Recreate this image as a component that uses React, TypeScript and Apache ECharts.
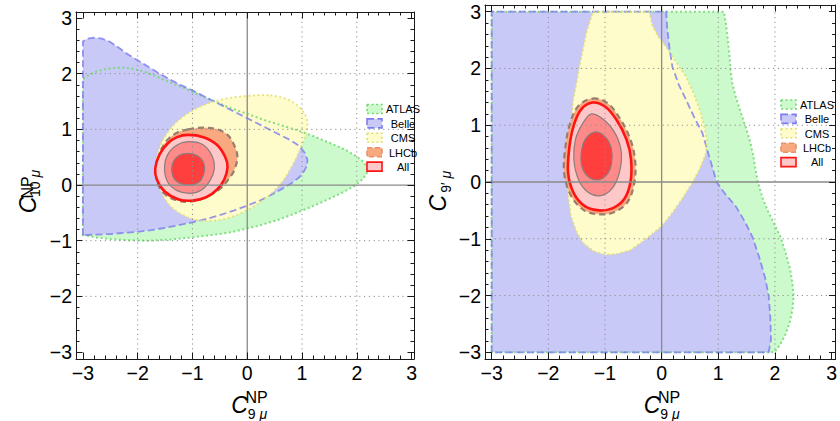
import React, { useEffect, useRef } from "react";
import * as echarts from "echarts";

type Pt = [number, number];

// ---- axis ticks ----
const tickValues = [-3, -2, -1, 0, 1, 2, 3];
const gridValues = [-2, -1, 1, 2];
const minorStep = 0.2;
const legendNames = ["ATLAS", "Belle", "CMS", "LHCb", "All"];

// ---- panel 1: C10 vs C9 ----
const c10Atlas: Pt[] = [
  [-3, -0.9], [-3, 1.9], [-2.9, 1.97], [-2.75, 2.04], [-2.6, 2.08], [-2.45, 2.1], [-2.28, 2.11],
  [-2.1, 2.09], [-1.9, 2.04], [-1.7, 1.97], [-1.5, 1.88], [-1.3, 1.8], [-1.1, 1.72], [-0.9, 1.63],
  [-0.7, 1.55], [-0.5, 1.46], [-0.3, 1.38], [0, 1.28], [0.3, 1.17], [0.6, 1.08], [0.9, 0.99],
  [1.2, 0.88], [1.5, 0.76], [1.8, 0.63], [2.0, 0.51], [2.12, 0.42], [2.19, 0.32], [2.18, 0.2],
  [2.1, 0.1], [1.95, -0.02], [1.75, -0.13], [1.45, -0.27], [1.15, -0.4], [0.85, -0.52],
  [0.55, -0.63], [0.25, -0.72], [0, -0.78], [-0.3, -0.85], [-0.65, -0.9], [-1.0, -0.94],
  [-1.4, -0.98], [-1.8, -1.0], [-2.2, -0.99], [-2.5, -0.97], [-2.77, -0.94], [-2.92, -0.91],
];
const c10Belle: Pt[] = [
  [-3, -0.9], [-3, 2.58], [-2.92, 2.63], [-2.8, 2.645], [-2.65, 2.63], [-2.5, 2.57], [-2.35, 2.47],
  [-2.2, 2.36], [-2.0, 2.24], [-1.8, 2.12], [-1.6, 2.0], [-1.4, 1.89], [-1.2, 1.79], [-1.0, 1.7],
  [-0.8, 1.6], [-0.6, 1.5], [-0.4, 1.4], [-0.2, 1.3], [0, 1.2], [0.2, 1.1], [0.4, 1.0], [0.6, 0.9],
  [0.8, 0.8], [0.95, 0.7], [1.05, 0.58], [1.1, 0.45], [1.09, 0.35], [1.04, 0.25], [0.95, 0.14],
  [0.82, 0.04], [0.65, -0.06], [0.45, -0.17], [0.25, -0.27], [0, -0.37], [-0.25, -0.46],
  [-0.5, -0.54], [-0.75, -0.61], [-1.0, -0.67], [-1.25, -0.72], [-1.5, -0.77], [-1.75, -0.81],
  [-2.0, -0.84], [-2.25, -0.86], [-2.5, -0.88], [-2.75, -0.89],
];
const c10Cms: Pt[] = [
  [0.42, 1.61], [0.75, 1.53], [0.97, 1.38], [1.09, 1.18], [1.08, 0.95], [0.98, 0.68], [0.84, 0.38],
  [0.64, 0.06], [0.36, -0.22], [0.0, -0.45], [-0.3, -0.58], [-0.6, -0.64], [-0.9, -0.63],
  [-1.15, -0.55], [-1.4, -0.38], [-1.58, -0.1], [-1.67, 0.25], [-1.62, 0.62], [-1.45, 0.95],
  [-1.18, 1.22], [-0.85, 1.41], [-0.45, 1.54], [0.0, 1.6],
];
const c10Lhcb: Pt[] = [
  [-1.08, 1.0], [-0.8, 1.03], [-0.55, 1.0], [-0.36, 0.9], [-0.24, 0.72], [-0.18, 0.51],
  [-0.24, 0.26], [-0.36, 0.08], [-0.5, -0.07], [-0.78, -0.23], [-1.05, -0.3], [-1.3, -0.27],
  [-1.5, -0.17], [-1.62, 0.0], [-1.66, 0.25], [-1.62, 0.5], [-1.5, 0.76], [-1.3, 0.93],
];
const c10All3: Pt[] = [
  [-1.08, 0.9], [-0.8, 0.86], [-0.55, 0.72], [-0.4, 0.5], [-0.36, 0.32], [-0.42, 0.1],
  [-0.55, -0.08], [-0.75, -0.22], [-1.0, -0.28], [-1.25, -0.26], [-1.5, -0.12], [-1.65, 0.1],
  [-1.68, 0.3], [-1.6, 0.55], [-1.45, 0.75], [-1.28, 0.86],
];
const c10All2: Pt[] = [
  [-1.05, 0.78], [-0.8, 0.72], [-0.64, 0.52], [-0.6, 0.3], [-0.68, 0.08], [-0.85, -0.1],
  [-1.05, -0.15], [-1.28, -0.1], [-1.45, 0.05], [-1.51, 0.3], [-1.45, 0.55], [-1.28, 0.72],
];
const c10All1: Pt[] = [
  [-1.08, 0.57], [-0.9, 0.52], [-0.79, 0.38], [-0.8, 0.18], [-0.9, 0.04], [-1.08, 0.0],
  [-1.25, 0.04], [-1.36, 0.16], [-1.37, 0.36], [-1.26, 0.52],
];

// ---- panel 2: C9' vs C9 ----
const c9pAtlas: Pt[] = [
  [-3, -3], [-3, 3], [1.1, 3], [1.14, 2.75], [1.17, 2.5], [1.2, 2.2], [1.22, 1.95], [1.25, 1.72],
  [1.31, 1.5], [1.39, 1.25], [1.48, 0.98], [1.56, 0.72], [1.62, 0.45], [1.66, 0.2], [1.7, 0.0],
  [1.78, -0.28], [1.89, -0.54], [2.0, -0.76], [2.1, -0.97], [2.19, -1.25], [2.26, -1.5],
  [2.31, -1.78], [2.33, -2.0], [2.31, -2.25], [2.26, -2.48], [2.18, -2.7], [2.09, -2.87], [1.99, -3],
];
const c9pBelle: Pt[] = [
  [-3, -3], [-3, 3], [0.08, 3], [0.1, 2.7], [0.14, 2.35], [0.19, 2.03], [0.3, 1.72], [0.43, 1.45],
  [0.57, 1.15], [0.72, 0.86], [0.84, 0.45], [0.97, 0.0], [1.13, -0.22], [1.31, -0.43],
  [1.47, -0.7], [1.6, -0.96], [1.73, -1.35], [1.83, -1.7], [1.89, -2.01], [1.92, -2.4],
  [1.93, -2.77], [1.89, -3],
];
const c9pCms: Pt[] = [
  [-1.21, 3], [-0.22, 3], [-0.16, 2.75], [-0.05, 2.55], [0.08, 2.38], [0.25, 2.12], [0.43, 1.86],
  [0.57, 1.55], [0.68, 1.25], [0.76, 0.95], [0.8, 0.72], [0.78, 0.5], [0.68, 0.25], [0.55, 0.0],
  [0.38, -0.27], [0.19, -0.54], [0.0, -0.78], [-0.3, -1.02], [-0.55, -1.2], [-0.8, -1.27],
  [-1.0, -1.28], [-1.2, -1.22], [-1.38, -1.08], [-1.5, -0.88], [-1.6, -0.6], [-1.65, -0.25],
  [-1.66, 0.1], [-1.64, 0.5], [-1.6, 1.0], [-1.56, 1.45], [-1.5, 1.75], [-1.45, 2.03],
  [-1.39, 2.33], [-1.33, 2.62], [-1.27, 2.82],
];
const c9pLhcb: Pt[] = [
  [-1.22, 1.47], [-0.97, 1.4], [-0.75, 1.14], [-0.56, 0.77], [-0.47, 0.4], [-0.48, 0.0],
  [-0.6, -0.35], [-0.83, -0.53], [-1.1, -0.57], [-1.38, -0.49], [-1.6, -0.24], [-1.72, 0.15],
  [-1.7, 0.6], [-1.62, 1.02], [-1.47, 1.34],
];
const c9pAll3: Pt[] = [
  [-1.22, 1.4], [-1.0, 1.33], [-0.8, 1.1], [-0.62, 0.75], [-0.54, 0.4], [-0.55, 0.0],
  [-0.66, -0.3], [-0.86, -0.46], [-1.1, -0.5], [-1.35, -0.43], [-1.55, -0.2], [-1.65, 0.15],
  [-1.63, 0.6], [-1.55, 1.0], [-1.42, 1.28],
];
const c9pAll2: Pt[] = [
  [-1.24, 1.2], [-1.0, 1.08], [-0.8, 0.82], [-0.71, 0.5], [-0.75, 0.15], [-0.88, -0.12],
  [-1.08, -0.24], [-1.3, -0.18], [-1.47, 0.05], [-1.55, 0.4], [-1.52, 0.75], [-1.4, 1.02],
];
const c9pAll1: Pt[] = [
  [-1.18, 0.88], [-1.0, 0.8], [-0.89, 0.6], [-0.88, 0.35], [-0.95, 0.15], [-1.1, 0.04],
  [-1.28, 0.08], [-1.4, 0.25], [-1.42, 0.5], [-1.35, 0.75],
];

const FONT = '"Liberation Sans", Arial, Helvetica, sans-serif';
const FRAME = "#1a1a1a";

const minorValues: number[] = [];
for (let v = -3; v <= 3.0001; v += minorStep) {
  const r = Math.round(v * 100) / 100;
  if (Math.abs(r - Math.round(r)) > 1e-6) minorValues.push(r);
}

const fmt = (v: number) => (v < 0 ? "\u2212" + Math.abs(v) : String(v));

interface LineStyle {
  stroke: string;
  lineWidth: number;
  lineDash?: number[];
  opacity?: number;
}

const STYLES = {
  ATLAS: { fill: "#cdfacd", line: { stroke: "#6fd86f", lineWidth: 2, lineDash: [2, 2.6], opacity: 0.85 } },
  Belle: { fill: "#c9c9f8", line: { stroke: "#7c7cee", lineWidth: 1.8, lineDash: [7, 3.5], opacity: 0.8 } },
  CMS: { fill: "#fffccb", line: { stroke: "#e2de72", lineWidth: 1.8, lineDash: [2, 2.6], opacity: 0.9 } },
  LHCb: { fill: "#f9a97f", line: { stroke: "#9a7d6d", lineWidth: 2.2, lineDash: [6, 4] } },
  All3: { fill: "#ffc8c8", line: { stroke: "#ff1414", lineWidth: 2.6 } },
  All2: { fill: "#ff8a8a", line: { stroke: "#8c7c7c", lineWidth: 1.2 } },
  All1: { fill: "#ff3e3e", line: { stroke: "#8c7c7c", lineWidth: 1.2 } },
};

function polySeries(pts: Pt[], fill: string | null, line: LineStyle | null, smooth: number) {
  return {
    type: "custom",
    silent: true,
    xAxisIndex: 0,
    yAxisIndex: 0,
    data: [[pts[0][0], pts[0][1]]],
    renderItem: (_p: any, api: any) => ({
      type: "polygon",
      shape: { points: pts.map((p) => api.coord(p)), smooth },
      style: {
        fill: fill || "none",
        stroke: line ? line.stroke : "none",
        lineWidth: line ? line.lineWidth : 0,
        lineDash: line && line.lineDash ? line.lineDash : null,
        opacity: line && line.opacity != null && !fill ? line.opacity : 1,
      },
    }),
  };
}

function gridSeries(xr: [number, number], yr: [number, number]) {
  return {
    type: "custom",
    silent: true,
    xAxisIndex: 0,
    yAxisIndex: 0,
    z: 4,
    data: [[0, 0]],
    renderItem: (_p: any, api: any) => {
      const children: any[] = [];
      const dotted = { stroke: "#8e8e8e", lineWidth: 1, lineDash: [1.2, 3.6] };
      const solid = { stroke: "#8a8a8a", lineWidth: 1.3 };
      gridValues.forEach((v) => {
        const a = api.coord([v, yr[0]]);
        const b = api.coord([v, yr[1]]);
        children.push({ type: "line", shape: { x1: a[0], y1: a[1], x2: b[0], y2: b[1] }, style: dotted });
        const c = api.coord([xr[0], v]);
        const d = api.coord([xr[1], v]);
        children.push({ type: "line", shape: { x1: c[0], y1: c[1], x2: d[0], y2: d[1] }, style: dotted });
      });
      const a0 = api.coord([0, yr[0]]);
      const b0 = api.coord([0, yr[1]]);
      children.push({ type: "line", shape: { x1: a0[0], y1: a0[1], x2: b0[0], y2: b0[1] }, style: solid });
      const c0 = api.coord([xr[0], 0]);
      const d0 = api.coord([xr[1], 0]);
      children.push({ type: "line", shape: { x1: c0[0], y1: c0[1], x2: d0[0], y2: d0[1] }, style: solid });
      return { type: "group", children };
    },
  };
}

function frameAxes(gi: number, range: [number, number], sides: [string, string]) {
  const out: any[] = [];
  sides.forEach((pos, si) => {
    out.push({
      type: "value",
      gridIndex: gi,
      position: pos,
      min: range[0],
      max: range[1],
      z: 6,
      axisLine: { show: true, onZero: false, lineStyle: { color: FRAME, width: 1 } },
      axisTick: { show: true, inside: true, length: 6.5, customValues: tickValues, lineStyle: { color: FRAME, width: 1 } },
      axisLabel: {
        show: si === 0,
        customValues: tickValues,
        formatter: fmt,
        margin: 4,
        fontSize: 19.5,
        color: "#000",
        fontFamily: FONT,
      },
      splitLine: { show: false },
    });
    out.push({
      type: "value",
      gridIndex: gi,
      position: pos,
      min: range[0],
      max: range[1],
      z: 6,
      axisLine: { show: false, onZero: false },
      axisTick: { show: true, inside: true, length: 3.5, customValues: minorValues, lineStyle: { color: FRAME, width: 1 } },
      axisLabel: { show: false },
      splitLine: { show: false },
    });
  });
  return out;
}

interface Regions {
  atlas: Pt[];
  belle: Pt[];
  cms: Pt[];
  lhcb: Pt[];
  all3: Pt[];
  all2: Pt[];
  all1: Pt[];
  cornered: boolean;
}

function txt(x: number, y: number, text: string, size: number, italic: boolean, rotation = 0, rich?: any) {
  return {
    type: "text",
    x,
    y,
    rotation,
    z: 30,
    silent: true,
    style: {
      text,
      fontFamily: FONT,
      fontSize: size,
      fontStyle: italic ? "italic" : "normal",
      fill: "#000",
      align: "center",
      verticalAlign: "middle",
      rich,
    },
  };
}

const subRich = (size: number) => ({
  n: { fontFamily: FONT, fontSize: size, fill: "#000" },
  m: { fontFamily: FONT, fontSize: size, fontStyle: "italic", fill: "#000" },
});

function legendGraphics(x: number, y0: number) {
  const items: any[] = [];
  const sw = [
    STYLES.ATLAS,
    STYLES.Belle,
    STYLES.CMS,
    { fill: STYLES.LHCb.fill, line: { stroke: "#e8926a", lineWidth: 1.6, lineDash: [5, 3] } },
    { fill: STYLES.All3.fill, line: { stroke: "#ff1414", lineWidth: 1.6 } },
  ];
  legendNames.forEach((name, i) => {
    const y = y0 + i * 14.4;
    const s: any = sw[i];
    items.push({
      type: "rect",
      z: 30,
      silent: true,
      shape: { x, y, width: 15, height: 9 },
      style: { fill: s.fill, stroke: s.line.stroke, lineWidth: Math.min(s.line.lineWidth, 1.6), lineDash: s.line.lineDash || null },
    });
    items.push({
      type: "text",
      z: 30,
      silent: true,
      x: x + 36,
      y: y + 4.8,
      style: { text: name, fontFamily: FONT, fontSize: 11, fill: "#000", align: "center", verticalAlign: "middle" },
    });
  });
  return items;
}

function buildOption(
  grid: { left: number; top: number; width: number; height: number },
  xr: [number, number],
  yr: [number, number],
  r: Regions,
  graphics: any[]
) {
  const sm = 0.35;
  const corner = r.cornered ? 0 : sm;
  const series: any[] = [
    polySeries(r.atlas, STYLES.ATLAS.fill, null, 0),
    polySeries(r.belle, STYLES.Belle.fill, null, 0),
    polySeries(r.cms, STYLES.CMS.fill, null, corner),
    polySeries(r.atlas, null, STYLES.ATLAS.line, 0),
    polySeries(r.belle, null, STYLES.Belle.line, 0),
    polySeries(r.cms, null, STYLES.CMS.line, corner),
    polySeries(r.lhcb, STYLES.LHCb.fill, STYLES.LHCb.line, sm),
    polySeries(r.all3, STYLES.All3.fill, STYLES.All3.line, sm),
    polySeries(r.all2, STYLES.All2.fill, STYLES.All2.line, sm),
    polySeries(r.all1, STYLES.All1.fill, STYLES.All1.line, sm),
    gridSeries(xr, yr),
  ];
  return {
    animation: false,
    backgroundColor: "#fff",
    grid: [{ ...grid, containLabel: false }],
    xAxis: frameAxes(0, xr, ["bottom", "top"]),
    yAxis: frameAxes(0, yr, ["left", "right"]),
    series,
    graphic: { elements: graphics },
  };
}

export default function App() {
  const leftRef = useRef<HTMLDivElement>(null);
  const rightRef = useRef<HTMLDivElement>(null);

  useEffect(() => {
    if (!leftRef.current || !rightRef.current) return;
    const left = echarts.init(leftRef.current, null, { renderer: "svg" });
    const right = echarts.init(rightRef.current, null, { renderer: "svg" });

    const leftGraphics = [
      txt(239.5, 405, "C", 23, true),
      txt(256.5, 397.5, "NP", 16, false),
      txt(257.5, 413.5, "{n|9} {m|\u03bc}", 14, false, 0, subRich(14)),
      txt(28.3, 205, "C", 23, true, Math.PI / 2),
      txt(27, 187.5, "NP", 16, false, Math.PI / 2),
      txt(34.5, 183.5, "{n|10} {m|\u03bc}", 14, false, Math.PI / 2, subRich(14)),
      ...legendGraphics(367, 104.5),
    ];
    const rightGraphics = [
      txt(232, 405, "C", 23, true),
      txt(249, 397.5, "NP", 16, false),
      txt(250, 413.5, "{n|9} {m|\u03bc}", 14, false, 0, subRich(14)),
      txt(17.5, 203.3, "C", 23, true, Math.PI / 2),
      txt(26, 181.7, "{n|9\u2032} {m|\u03bc}", 14, false, Math.PI / 2, subRich(14)),
      ...legendGraphics(361, 100),
    ];

    left.setOption(
      buildOption(
        { left: 76, top: 12, width: 343.5, height: 347 },
        [-3.126, 3.044],
        [-3.125, 3.108],
        { atlas: c10Atlas, belle: c10Belle, cms: c10Cms, lhcb: c10Lhcb, all3: c10All3, all2: c10All2, all1: c10All1, cornered: false },
        leftGraphics
      )
    );
    right.setOption(
      buildOption(
        { left: 65, top: 5, width: 352, height: 354 },
        [-3.118, 3.07],
        [-3.118, 3.118],
        { atlas: c9pAtlas, belle: c9pBelle, cms: c9pCms, lhcb: c9pLhcb, all3: c9pAll3, all2: c9pAll2, all1: c9pAll1, cornered: true },
        rightGraphics
      )
    );
    return () => {
      left.dispose();
      right.dispose();
    };
  }, []);

  return (
    <div style={{ position: "absolute", left: 0, top: 0, width: 840, height: 421, background: "#fff" }}>
      <div ref={leftRef} style={{ position: "absolute", left: 0, top: 0, width: 420, height: 421, overflow: "hidden" }} />
      <div ref={rightRef} style={{ position: "absolute", left: 420, top: 0, width: 420, height: 421, overflow: "hidden" }} />
    </div>
  );
}
